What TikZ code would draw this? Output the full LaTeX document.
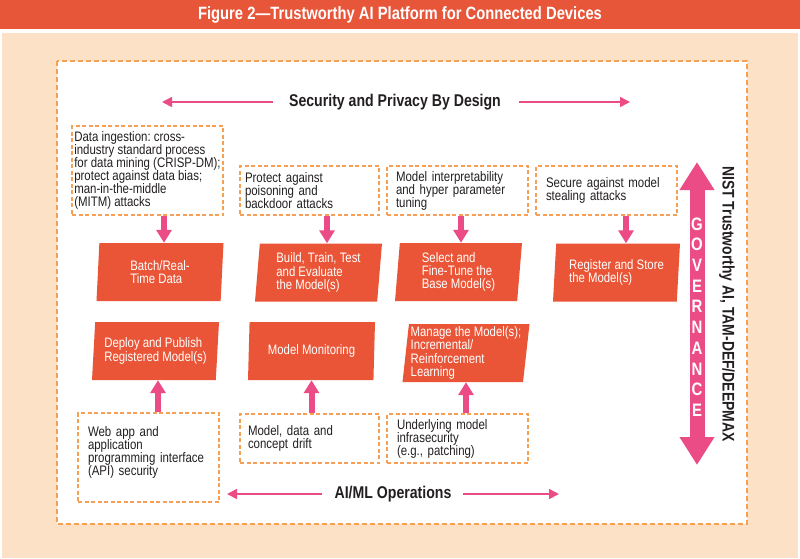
\documentclass[tikz,border=0pt]{standalone}
\usepackage{fontspec}
\setmainfont{Liberation Sans}[FakeStretch=0.83]
\usetikzlibrary{shapes.geometric,arrows.meta}
\definecolor{titlered}{RGB}{232,86,58}
\definecolor{parred}{RGB}{234,85,55}
\definecolor{arrowpink}{RGB}{235,76,134}
\definecolor{peach}{RGB}{252,225,199}
\definecolor{dashorange}{RGB}{246,160,85}
\definecolor{ink}{RGB}{35,31,32}
\frenchspacing

\begin{document}
\begin{tikzpicture}[x=1pt, y=-1pt,
  note/.style = {draw=dashorange, line width=1.4pt, dash pattern=on 4pt off 2.5pt,
    align=left, inner sep=2pt, minimum height=49pt, text=ink,
    font=\fontsize{13.8}{13}\selectfont},
  par/.style = {trapezium, trapezium left angle=83, trapezium right angle=97,
    trapezium stretches body, fill=parred, text=white, inner sep=0pt,
    minimum height=58pt, minimum width=127pt, align=left,
    font=\fontsize{13.7}{13.3}\selectfont},
  fat/.style = {draw=arrowpink, line width=6pt, -{Triangle[width=15pt,length=13pt]}},
  flow/.style = {draw=arrowpink, line width=1.6pt, -{Triangle[width=10pt,length=10pt]}},
  head/.style = {text=ink, font=\bfseries\fontsize{17}{17}\selectfont}]
  \useasboundingbox (0,0) rectangle (800,558);

  \fill[titlered] (0,0) rectangle (800,29);
  \node[text=white, font=\bfseries\fontsize{17.8}{17.8}\selectfont] (title) at (400,15)
    {Figure 2—Trustworthy AI Platform for Connected Devices};
  \fill[peach] (2,33) rectangle (798,558);
  \draw[draw=dashorange, line width=1.4pt, dash pattern=on 5pt off 3pt, fill=white]
    (57,61) rectangle (747,524);

  % security and privacy by design
  \node[head] (sec) at (395,102) {Security and Privacy By Design};
  \coordinate (secL) at (162,102);
  \coordinate (secR) at (630,102);
  \draw[flow, shorten <=13pt] (sec.west) -- (secL);
  \draw[flow, shorten <=15pt] (sec.east) -- (secR);

  \node[note, minimum width=151pt, minimum height=89pt] (b1) at (147.5,170.5)
    {Data ingestion: cross-\\industry standard process\\for data mining (CRISP-DM);\\protect against data bias;\\man-in-the-middle\\(MITM) attacks};
  \node[note, minimum width=139pt, text width=129pt] (b2) at (309.5,190.5)
    {Protect against\\poisoning and\\backdoor attacks};
  \node[note, minimum width=141pt, text width=123pt] (b3) at (457.5,190.5)
    {Model interpretability\\and hyper parameter\\tuning};
  \node[note, minimum width=141pt, text width=121pt] (b4) at (606.5,190.5)
    {Secure against model\\stealing attacks};

  \node[par] (p1) at (160,272) {Batch/Real-\\Time Data};
  \node[par] (p2) at (318.5,272.5) {Build, Train, Test\\and Evaluate\\the Model(s)};
  \node[par] (p3) at (458.5,272) {Select and\\Fine-Tune the\\Base Model(s)};
  \node[par] (p4) at (616.5,272.5) {Register and Store\\the Model(s)};

  \draw[fat] ([xshift=4pt]p1.north |- b1.south) -- ([xshift=4pt]p1.north);
  \draw[fat] ([xshift=8.5pt]p2.north |- b2.south) -- ([xshift=8.5pt]p2.north);
  \draw[fat] ([xshift=2.5pt]p3.north |- b3.south) -- ([xshift=2.5pt]p3.north);
  \draw[fat] ([xshift=9.5pt]p4.north |- b4.south) -- ([xshift=9.5pt]p4.north);

  \node[par] (q1) at (155.5,351) {Deploy and Publish\\Registered Model(s)};
  \node[par] (q2) at (311.5,351) {Model Monitoring};
  \node[par] (q3) at (466,353) {Manage the Model(s);\\ Incremental/\\Reinforcement\\Learning};

  \node[note, minimum width=141pt, minimum height=89pt, text width=121pt] (d1) at (148.5,457.5)
    {Web app and\\application\\programming interface\\(API) security\\\mbox{}};
  \node[note, minimum width=139pt, text width=123pt] (d2) at (309.5,438.5)
    {Model, data and\\concept drift};
  \node[note, minimum width=141pt, text width=121pt] (d3) at (457.5,438.5)
    {Underlying model\\infrasecurity\\(e.g., patching)};

  \draw[fat] ([xshift=2.5pt]q1.south |- d1.north) -- ([xshift=2.5pt]q1.south);
  \draw[fat] (q2.south |- d2.north) -- (q2.south);
  \draw[fat] (q3.south |- d3.north) -- (q3.south);

  % ai/ml operations
  \node[head] (ops) at (393,494) {AI/ML Operations};
  \coordinate (opsL) at (227,494);
  \coordinate (opsR) at (559,494);
  \draw[flow, shorten <=9pt] (ops.west) -- (opsL);
  \draw[flow, shorten <=8pt] (ops.east) -- (opsR);

  % governance
  \coordinate (govT) at (697,162);
  \coordinate (govB) at (697,465);
  \draw[draw=arrowpink, line width=15pt,
    {Triangle[width=33pt,length=28pt]}-{Triangle[width=33pt,length=28pt]}] (govT) -- (govB);
  \node[text=white, align=center, font=\bfseries\fontsize{18}{20.7}\selectfont] (gov) at (697,317)
    {G\\O\\V\\E\\R\\N\\A\\N\\C\\E};
  \node[text=ink, rotate=-90, font=\bfseries\fontsize{16.8}{16.8}\selectfont] (nist) at (727,304)
    {NIST Trustworthy AI, TAM-DEF/DEEPMAX};
\end{tikzpicture}
\end{document}
